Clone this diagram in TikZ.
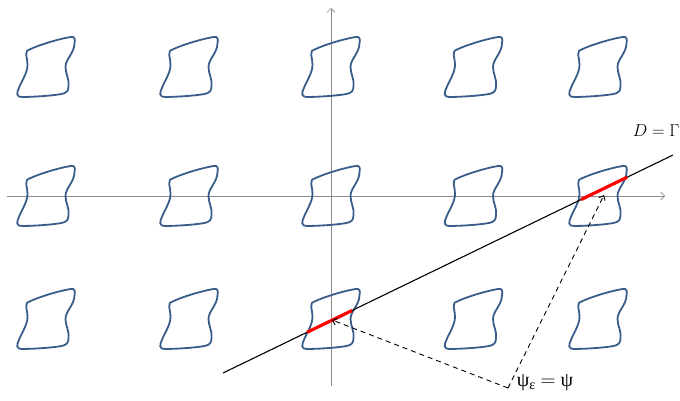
\documentclass[tikz,border=0pt]{standalone}
\usepackage{fontspec}
\usepackage{tikz}
\usetikzlibrary{arrows.meta,calc}
\newfontfamily\greekfont{Liberation Serif}

\begin{document}
\begin{tikzpicture}[
    x=1pt, y=-1pt,
    cell/.style={draw={rgb,255:red,56;green,93;blue,138}, line width=1.8pt},
    axis/.style={draw=black!45, line width=0.7pt, -{Straight Barb[length=4pt,width=8pt]}},
    graph/.style={draw=black, line width=1.1pt},
    piece/.style={draw=red, line width=3.2pt},
    pointer/.style={draw=black, line width=0.9pt, dash pattern=on 5pt off 4pt, -{Straight Barb[length=4pt,width=7pt]}},
    label/.style={font=\fontsize{17}{20}\selectfont, inner sep=0pt},
]
    \useasboundingbox (0,0) rectangle (680,401);

    % Axes
    \coordinate (xstart) at (7,196);
    \coordinate (xend) at (665,196);
    \coordinate (ystart) at (331,386);
    \coordinate (yend) at (331,8);
    \draw[axis] (xstart) -- (xend);
    \draw[axis] (ystart) -- (yend);

    % Lattice of cells
    \foreach \cx [count=\i] in {45.5,188.5,330.5,473,597.5} {
        \foreach \cy [count=\j] in {67,196,319} {
            \coordinate (c\i\j) at (\cx,\cy);
            \draw[cell, shift={(c\i\j)}]
                (-17,-17) .. controls (-7,-22) and (13,-28) .. (25,-30)
                .. controls (29,-31) and (30,-28) .. (29,-24)
                .. controls (29,-14) and (20,-8) .. (20,0)
                .. controls (20,7) and (24,12) .. (23,19)
                .. controls (23,24) and (21,26) .. (16,27)
                .. controls (5,29) and (-15,30) .. (-24,30)
                .. controls (-29,30) and (-29,26) .. (-27,22)
                .. controls (-24,14) and (-18,6) .. (-18,-2)
                .. controls (-18,-8) and (-20,-12) .. (-19,-14)
                .. controls (-19,-16) and (-18.5,-16.6) .. cycle;
        }
    }

    % Line D
    \coordinate (dstart) at (223,373);
    \coordinate (dend) at (673,155);
    \draw[graph] (dstart) -- (dend);
    \draw[piece] ($(dstart)!0.1867!(dend)$) -- ($(dstart)!0.2867!(dend)$);
    \draw[piece] ($(dstart)!0.7956!(dend)$) -- ($(dstart)!0.8978!(dend)$);

    % Labels
    \node[label] (dlabel) at (656,131) {$D=\Gamma$};
    \node[label, font=\fontsize{20}{22}\selectfont] (psilabel) at (545,383) {\greekfont ψ\textsubscript{ε} $=$ ψ};

    % Dashed pointers
    \coordinate (bend) at (508,388);
    \coordinate (tipa) at (332,320);
    \coordinate (tipb) at (604,195);
    \draw[pointer] (bend) -- (tipa);
    \draw[pointer] (bend) -- (tipb);
\end{tikzpicture}
\end{document}
